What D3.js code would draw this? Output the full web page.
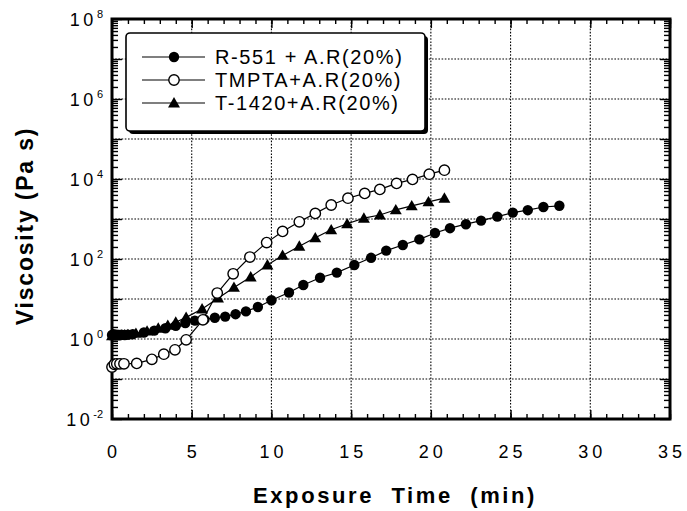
<!DOCTYPE html>
<html>
<head>
<meta charset="utf-8">
<script src="https://cdn.jsdelivr.net/npm/d3@7"></script>
<style>
  html, body { margin: 0; padding: 0; background: #fff; }
  svg { display: block; }
  text { font-family: "Liberation Sans", Arial, Helvetica, sans-serif; fill: #000; }
</style>
</head>
<body>
<svg id="chart" width="687" height="511"></svg>
<script>
// ---- Data (time in min, viscosity in Pa s) ----
const r551Time = [0, 0.1, 0.2, 0.3, 0.45, 0.6, 0.8, 1.0, 1.3, 2.0, 2.65, 3.35, 4.0, 4.6, 5.2, 5.8, 6.45, 7.1, 7.75, 8.4, 9.15, 10.0, 11.1, 12.0, 13.05, 14.1, 15.2, 16.25, 17.2, 18.24, 19.28, 20.26, 21.2, 22.2, 23.15, 24.17, 25.14, 26.08, 27.06, 28.06];
const r551Visc = [1.26, 1.32, 1.26, 1.29, 1.26, 1.29, 1.26, 1.29, 1.32, 1.45, 1.62, 1.86, 2.14, 2.51, 2.88, 3.09, 3.39, 3.63, 4.17, 4.9, 6.31, 9.33, 14.5, 22.4, 33.9, 45.7, 70.8, 107, 162, 224, 309, 447, 589, 741, 912, 1148, 1445, 1660, 1995, 2138];

const tmptaTime = [0, 0.15, 0.3, 0.5, 0.75, 1.55, 2.5, 3.25, 3.95, 4.65, 5.7, 6.6, 7.6, 8.65, 9.7, 10.7, 11.75, 12.75, 13.75, 14.8, 15.85, 16.8, 17.85, 18.85, 19.9, 20.85];
const tmptaVisc = [0.20, 0.234, 0.24, 0.24, 0.24, 0.245, 0.31, 0.417, 0.537, 0.955, 3.02, 14.1, 42.7, 112, 257, 490, 851, 1380, 2239, 3311, 4365, 5495, 7762, 9772, 13183, 16596];

const t1420Time = [0, 0.2, 0.4, 0.6, 0.8, 1.0, 1.5, 2.2, 2.9, 3.5, 4.0, 4.65, 5.65, 6.65, 7.65, 8.7, 9.75, 10.7, 11.75, 12.75, 13.75, 14.75, 15.8, 16.8, 17.8, 18.8, 19.85, 20.85];
const t1420Visc = [1.2, 1.2, 1.23, 1.23, 1.26, 1.29, 1.38, 1.58, 1.86, 2.19, 2.63, 3.47, 5.62, 10.5, 19.5, 35.5, 70.8, 123, 209, 339, 537, 759, 1047, 1259, 1698, 2138, 2692, 3311];

const seriesNames = ["R-551 + A.R(20%)", "TMPTA+A.R(20%)", "T-1420+A.R(20%)"];
const seriesMarkers = ["filledCircle", "openCircle", "triangle"];

const xTicks = [0, 5, 10, 15, 20, 25, 30, 35];
const xMinorTicks = d3.range(0, 36, 1);
const yTickExps = [-2, 0, 2, 4, 6, 8];
const yGridExps = [-1, 0, 1, 2, 3, 4, 5, 6, 7];
const xGrid = [5, 10, 15, 20, 25, 30];

const xTitle = "Exposure  Time  (min)";
const yTitle = "Viscosity (Pa s)";

// ---- Layout ----
const L = 112, R = 670, T = 19, B = 419;
const svg = d3.select("#chart");
const x = d3.scaleLinear().domain([0, 35]).range([L, R]);
const y = d3.scaleLog().domain([1e-2, 1e8]).range([B, T]);

// minor log ticks
const yMinor = [];
for (let e = -2; e < 8; e++) for (let k = 2; k <= 9; k++) yMinor.push(k * Math.pow(10, e));
const yMajorAll = d3.range(-2, 9).map(e => Math.pow(10, e));

// grid
const grid = svg.append("g").attr("stroke", "#000").attr("stroke-width", 1.1).attr("stroke-dasharray", "1.6,1.6");
grid.selectAll("line.h").data(yGridExps).join("line")
  .attr("x1", L).attr("x2", R).attr("y1", d => y(Math.pow(10, d))).attr("y2", d => y(Math.pow(10, d)));
grid.selectAll("line.v").data(xGrid).join("line")
  .attr("x1", d => x(d)).attr("x2", d => x(d)).attr("y1", T).attr("y2", B);

// axes (inward ticks on all four sides)
function styleAxis(g) { g.select(".domain").remove(); g.selectAll("line").attr("stroke", "#000").attr("stroke-width", 1.4); g.selectAll("text").remove(); }
svg.append("g").attr("transform", `translate(0,${B})`).call(d3.axisBottom(x).tickValues(xMinorTicks).tickSize(-5).tickFormat("")).call(styleAxis);
svg.append("g").attr("transform", `translate(0,${B})`).call(d3.axisBottom(x).tickValues(xTicks).tickSize(-9).tickFormat("")).call(styleAxis);
svg.append("g").attr("transform", `translate(0,${T})`).call(d3.axisTop(x).tickValues(xMinorTicks).tickSize(-5).tickFormat("")).call(styleAxis);
svg.append("g").attr("transform", `translate(0,${T})`).call(d3.axisTop(x).tickValues(xTicks).tickSize(-9).tickFormat("")).call(styleAxis);
svg.append("g").attr("transform", `translate(${L},0)`).call(d3.axisLeft(y).tickValues(yMinor).tickSize(-6).tickFormat("")).call(styleAxis);
svg.append("g").attr("transform", `translate(${L},0)`).call(d3.axisLeft(y).tickValues(yMajorAll).tickSize(-10).tickFormat("")).call(styleAxis);
svg.append("g").attr("transform", `translate(${R},0)`).call(d3.axisRight(y).tickValues(yMinor).tickSize(-6).tickFormat("")).call(styleAxis);
svg.append("g").attr("transform", `translate(${R},0)`).call(d3.axisRight(y).tickValues(yMajorAll).tickSize(-10).tickFormat("")).call(styleAxis);

// frame
svg.append("rect").attr("x", L).attr("y", T).attr("width", R - L).attr("height", B - T)
  .attr("fill", "none").attr("stroke", "#000").attr("stroke-width", 3);

// tick labels
svg.append("g").selectAll("text").data(xTicks).join("text")
  .attr("x", d => x(d)).attr("y", 458).attr("text-anchor", "middle")
  .attr("font-size", 18).attr("letter-spacing", 4)
  .attr("dx", 2)
  .text(d => d);

const yl = svg.append("g").selectAll("text").data(yTickExps).join("text")
  .attr("x", 103).attr("y", d => y(Math.pow(10, d)) + 7).attr("text-anchor", "end")
  .attr("font-size", 18);
yl.append("tspan").attr("letter-spacing", 3.5).text("10");
yl.append("tspan").attr("font-size", 11).attr("dy", -8).text(d => d);

// axis titles
svg.append("text").attr("x", 395).attr("y", 503).attr("text-anchor", "middle")
  .attr("font-size", 22).attr("font-weight", "bold").attr("letter-spacing", 2.6)
  .attr("xml:space", "preserve").style("white-space", "pre").text(xTitle);
svg.append("text").attr("transform", "translate(33,226) rotate(-90)").attr("text-anchor", "middle")
  .attr("font-size", 23).attr("font-weight", "bold").attr("letter-spacing", 1.8)
  .text(yTitle);

// series
const series = [
  { t: r551Time, v: r551Visc },
  { t: tmptaTime, v: tmptaVisc },
  { t: t1420Time, v: t1420Visc }
];
const line = d3.line().x(d => x(d[0])).y(d => y(d[1]));
const tri = d3.symbol().type(d3.symbolTriangle).size(62);

function drawMarker(g, type, cx, cy) {
  if (type === "filledCircle") g.append("circle").attr("cx", cx).attr("cy", cy).attr("r", 5.2).attr("fill", "#000");
  else if (type === "openCircle") g.append("circle").attr("cx", cx).attr("cy", cy).attr("r", 5.2).attr("fill", "#fff").attr("stroke", "#000").attr("stroke-width", 1.4);
  else g.append("path").attr("d", tri()).attr("transform", `translate(${cx},${cy + 1})`).attr("fill", "#000");
}

const plot = svg.append("g");
series.forEach((s, i) => {
  const pts = s.t.map((t, j) => [t, s.v[j]]);
  plot.append("path").datum(pts).attr("d", line).attr("fill", "none").attr("stroke", "#000").attr("stroke-width", 1.2);
});
[0, 2, 1].forEach(i => {
  const s = series[i];
  const g = plot.append("g");
  s.t.forEach((t, j) => drawMarker(g, seriesMarkers[i], x(t), y(s.v[j])));
});

// legend
const lg = svg.append("g");
lg.append("rect").attr("x", 129).attr("y", 36).attr("width", 299).attr("height", 98).attr("rx", 4).attr("fill", "#000");
lg.append("rect").attr("x", 126).attr("y", 33).attr("width", 299).attr("height", 98).attr("rx", 4)
  .attr("fill", "#fff").attr("stroke", "#000").attr("stroke-width", 1.6);
const rowsY = [57, 80, 103];
seriesNames.forEach((name, i) => {
  lg.append("line").attr("x1", 142).attr("x2", 205).attr("y1", rowsY[i]).attr("y2", rowsY[i]).attr("stroke", "#000").attr("stroke-width", 1.2);
  drawMarker(lg, seriesMarkers[i], 174, rowsY[i]);
  lg.append("text").attr("x", 215).attr("y", rowsY[i] + 7).attr("font-size", 20).attr("letter-spacing", 1.6).text(name);
});
</script>
</body>
</html>
